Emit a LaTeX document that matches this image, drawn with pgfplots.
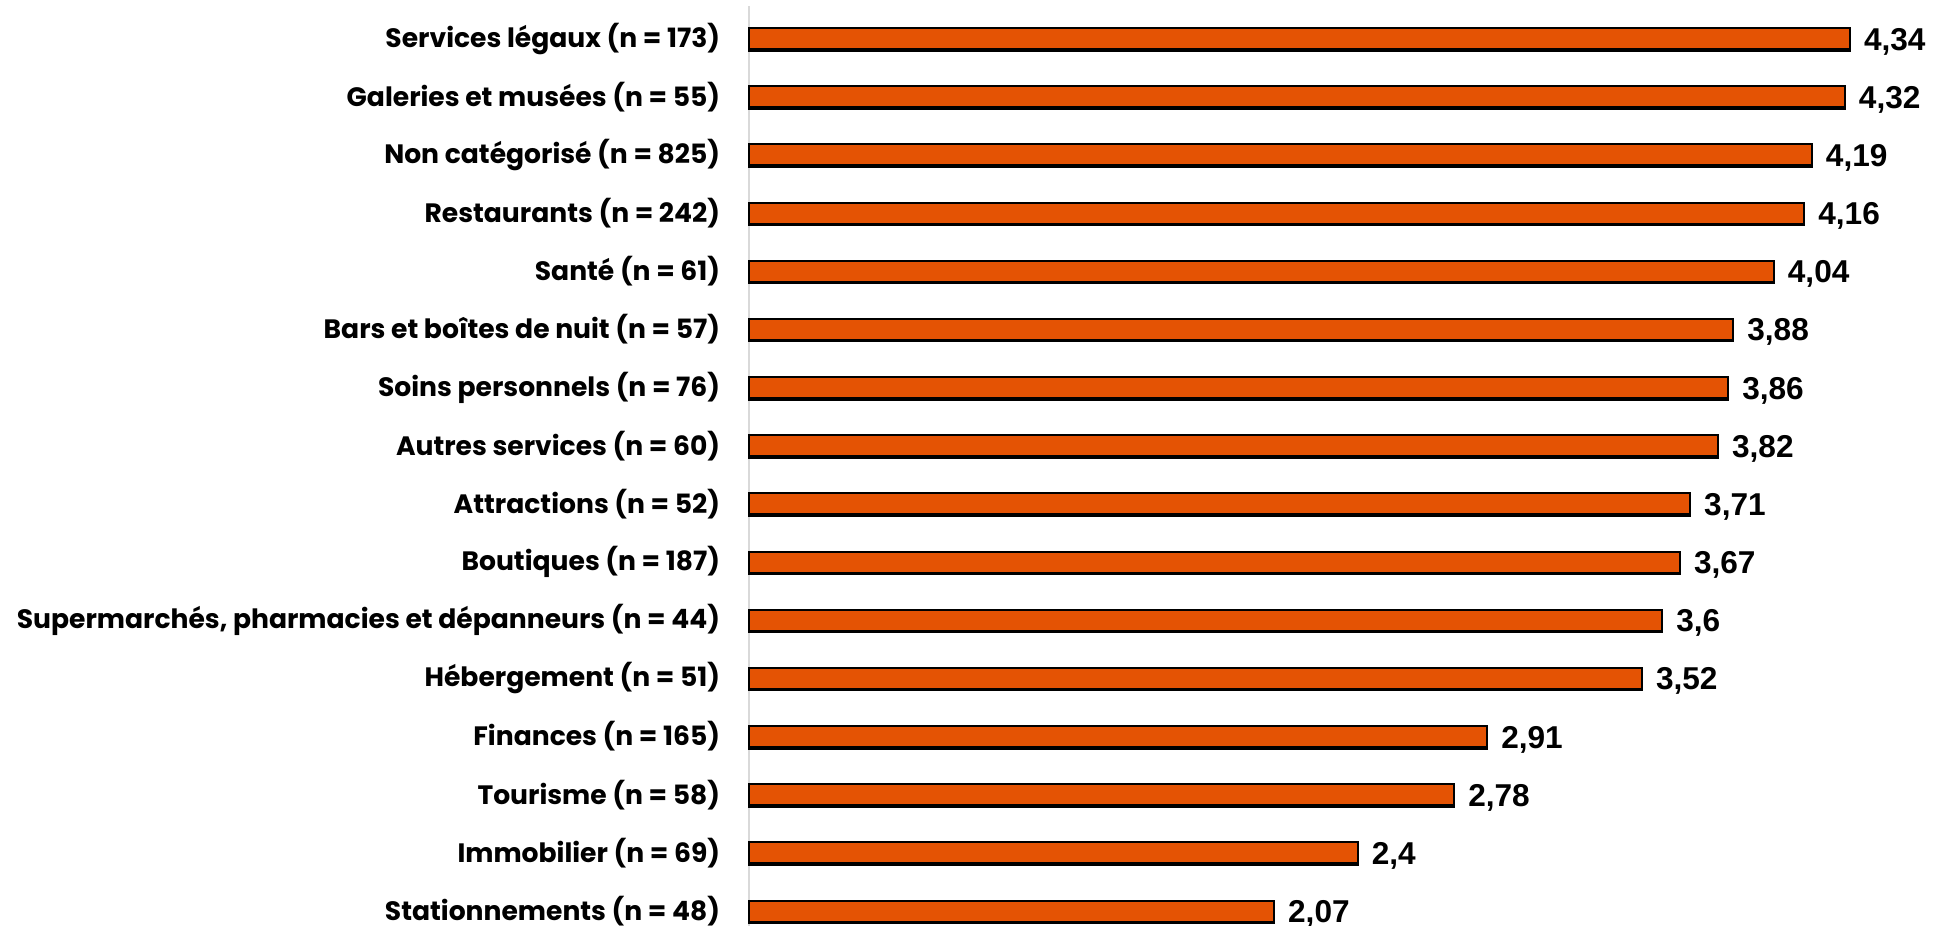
\documentclass[border=0pt]{standalone}
\usepackage{pgfplots}
\pgfplotsset{compat=1.18}
\usepackage{fontspec}
\setmainfont{Poppins}
\newfontfamily\valfont{Liberation Sans}
\definecolor{barorange}{RGB}{228,83,4}
\definecolor{axisgray}{RGB}{217,217,217}
\begin{document}
\begin{tikzpicture}
\path[use as bounding box] (0,0) rectangle (967pt,463pt);
\begin{axis}[
  at={(374.5pt,0pt)}, anchor=south west,
  scale only axis,
  width=592.5pt, height=460pt,
  xmin=0, xmax=4.671,
  ymin=-0.56, ymax=15.258,
  y dir=reverse,
  xbar, bar width=10.5pt,
  axis x line=none,
  axis y line*=left,
  y axis line style={draw=axisgray, line width=1pt, -},
  ytick=data,
  yticklabels={Services légaux (n = 173),Galeries et musées (n = 55),Non catégorisé (n = 825),Restaurants (n = 242),Santé (n = 61),Bars et boîtes de nuit (n = 57),Soins personnels (n = 76),Autres services (n = 60),Attractions (n = 52),Boutiques (n = 187),{Supermarchés, pharmacies et dépanneurs (n = 44)},Hébergement (n = 51),Finances (n = 165),Tourisme (n = 58),Immobilier (n = 69),Stationnements (n = 48)},
  ytick style={draw=none},
  yticklabel style={font=\fontsize{13.3}{15}\selectfont\bfseries, anchor=east, xshift=-10pt, inner sep=0pt},
  clip=false,
  nodes near coords,
  point meta=x,
  nodes near coords style={font=\valfont\fontsize{15.8}{18}\selectfont\bfseries, anchor=west, inner sep=0pt, xshift=6.5pt, yshift=-1.5pt,
    /pgf/number format/.cd, fixed, precision=2, use comma, assume math mode=true},
]
\addplot[fill=barorange, draw=black, line width=1pt,
  preaction={fill=black, draw=black, line width=1pt, transform canvas={yshift=-0.8pt}}] table[x=v, y=i] {
i v
0 4.34
1 4.32
2 4.19
3 4.16
4 4.04
5 3.88
6 3.86
7 3.82
8 3.71
9 3.67
10 3.6
11 3.52
12 2.91
13 2.78
14 2.4
15 2.07
};
\end{axis}
\end{tikzpicture}
\end{document}
